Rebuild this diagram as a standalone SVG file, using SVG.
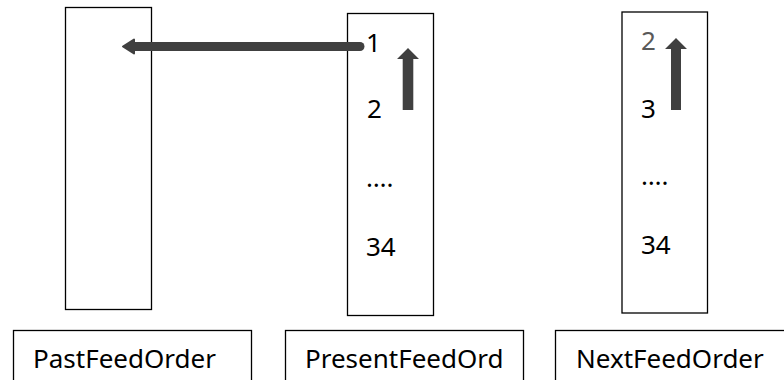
<svg xmlns="http://www.w3.org/2000/svg" width="784" height="380" viewBox="0 0 784 380">
  <style>
    .box { fill: #ffffff; stroke: #000000; stroke-width: 1.3; }
    .txt { font-family: "Noto Sans", "Open Sans", sans-serif; font-size: 26px; fill: #000000; }
    .dim { fill: #595959; }
    .arrow { fill: #404040; }
    .shaft { stroke: #404040; stroke-width: 9; stroke-linecap: round; fill: none; }
  </style>

  <!-- order columns -->
  <g id="past-column">
    <rect class="box" x="65.5" y="7.5" width="86" height="302"/>
  </g>
  <g id="present-column">
    <rect class="box" x="347.5" y="13.5" width="86" height="302"/>
    <text class="txt" x="366" y="52">1</text>
    <text class="txt" x="367" y="118">2</text>
    <text class="txt" x="366" y="187">….</text>
    <text class="txt" x="366" y="256">34</text>
  </g>
  <g id="next-column">
    <rect class="box" x="622" y="12" width="85.5" height="301"/>
    <text class="txt dim" x="641" y="50">2</text>
    <text class="txt" x="641" y="118">3</text>
    <text class="txt" x="641" y="185">….</text>
    <text class="txt" x="641" y="254">34</text>
  </g>

  <!-- column captions -->
  <g id="past-label">
    <rect class="box" x="13.5" y="330.5" width="238" height="60"/>
    <text class="txt" x="33" y="367.5">PastFeedOrder</text>
  </g>
  <g id="present-label">
    <rect class="box" x="285.5" y="330.5" width="238" height="60"/>
    <text class="txt" x="305" y="367.5">PresentFeedOrd</text>
  </g>
  <g id="next-label">
    <rect class="box" x="555.5" y="330.5" width="238" height="60"/>
    <text class="txt" x="576" y="367.5">NextFeedOrder</text>
  </g>

  <!-- connectors -->
  <g id="connectors">
    <!-- item 1 moves into the past column -->
    <line class="shaft" x1="360" y1="46.5" x2="132" y2="46.5"/>
    <path class="arrow" d="M123 46.5 L134 39.5 L134 53.5 Z" stroke="#404040" stroke-width="2" stroke-linejoin="round"/>
    <!-- present column shifts upward -->
    <path class="arrow" d="M408 48 L419 59 L413.3 59 L413.3 110 L402.7 110 L402.7 59 L397 59 Z"/>
    <!-- next column shifts upward -->
    <path class="arrow" d="M676 38 L687 49 L681 49 L681 110 L671 110 L671 49 L665 49 Z"/>
  </g>
</svg>
